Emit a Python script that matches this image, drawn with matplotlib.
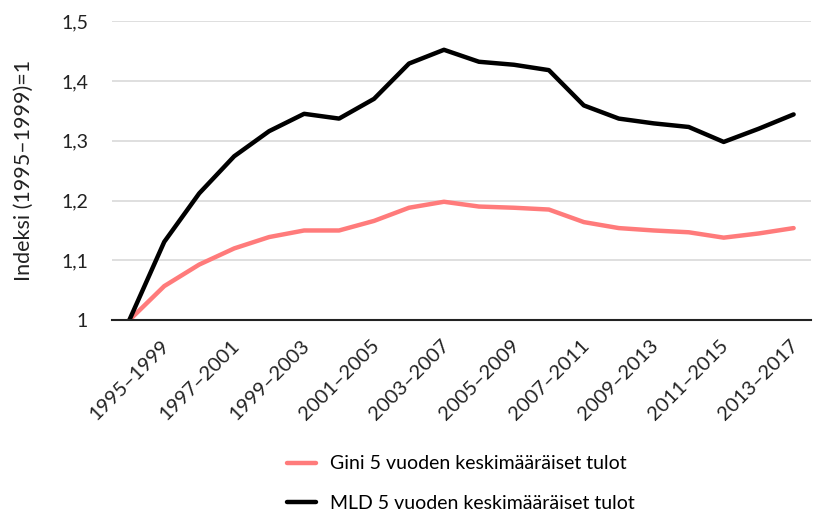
import matplotlib
matplotlib.use("Agg")
import matplotlib.pyplot as plt
from matplotlib.ticker import FuncFormatter

plt.rcParams["font.family"] = ["Lato", "DejaVu Sans"]

# 5 vuoden jaksot 1995–1999 ... 2014–2018
periods = [f"{y}\u2013{y + 4}" for y in range(1995, 2015)]

gini = [1.000, 1.057, 1.093, 1.120, 1.139, 1.150, 1.150, 1.166, 1.188, 1.198,
        1.190, 1.188, 1.185, 1.164, 1.154, 1.150, 1.147, 1.138, 1.145, 1.154]
mld = [1.000, 1.131, 1.212, 1.274, 1.316, 1.345, 1.337, 1.370, 1.429, 1.452,
       1.432, 1.427, 1.418, 1.359, 1.337, 1.329, 1.323, 1.298, 1.320, 1.344]

labels = ["Gini 5 vuoden keskimääräiset tulot", "MLD 5 vuoden keskimääräiset tulot"]
colors = ["#ff7b7b", "#000000"]

fig = plt.figure(figsize=(8.16, 5.14), dpi=100)
ax = fig.add_axes([0.137, 0.377, 0.857, 0.582])

x = list(range(len(periods)))
ax.plot(x, gini, color=colors[0], lw=3.2, label=labels[0], solid_capstyle="round", solid_joinstyle="round")
ax.plot(x, mld, color=colors[1], lw=3.2, label=labels[1], solid_capstyle="round", solid_joinstyle="round")

ax.set_xlim(-0.5, len(periods) - 0.5)
ax.set_ylim(1.0, 1.5)
ax.set_yticks([1.0, 1.1, 1.2, 1.3, 1.4, 1.5])
ax.yaxis.set_major_formatter(FuncFormatter(lambda v, p: "1" if abs(v - 1) < 1e-9 else f"{v:.1f}".replace(".", ",")))
ax.grid(axis="y", color="#d9d9d9", lw=1.2)
ax.set_axisbelow(True)

ax.set_xticks(x[::2])
ax.set_xticklabels(periods[::2], rotation=45, ha="center", va="top")

for s in ["top", "right", "left"]:
    ax.spines[s].set_visible(False)
ax.spines["bottom"].set_color("#222222")
ax.spines["bottom"].set_linewidth(1.5)

ax.tick_params(axis="both", length=0, colors="#222222")
ax.tick_params(axis="y", pad=17, labelsize=14)
ax.tick_params(axis="x", pad=12, labelsize=14.5)

ax.set_ylabel("Indeksi (1995\u20131999)=1", fontsize=15.5, color="#222222", labelpad=20)

fig.legend(loc="upper left", bbox_to_anchor=(0.352, 0.114), ncol=1, frameon=False,
           fontsize=14, labelspacing=1.15, handlelength=1.5, handletextpad=0.7,
           borderaxespad=0, borderpad=0)

fig.savefig("out.png", dpi=100)
